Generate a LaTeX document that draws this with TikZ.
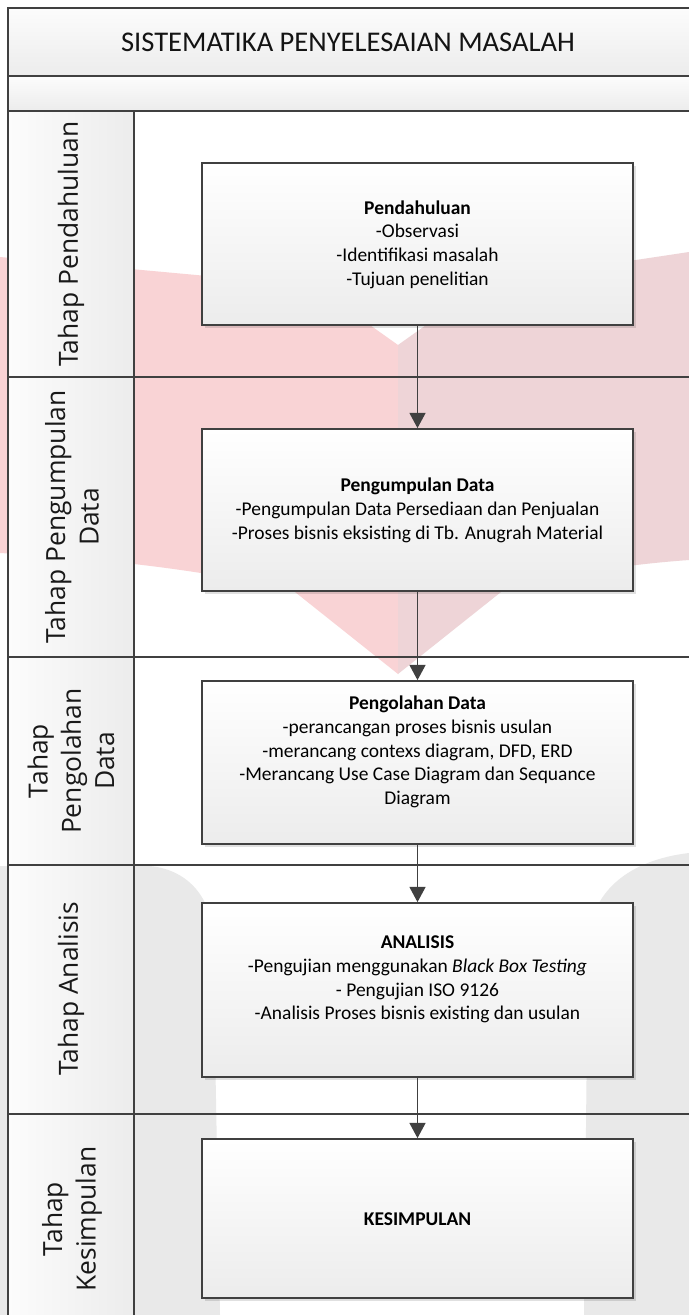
\documentclass[tikz,border=0pt]{standalone}
\usepackage{fontspec}
\setmainfont{Carlito}
\newfontfamily\lanefont{Open Sans}
\usetikzlibrary{arrows.meta,calc,shadows}
\definecolor{ln}{HTML}{404040}
\definecolor{pinkL}{HTML}{F9D3D5}
\definecolor{pinkR}{HTML}{EED4D7}
\definecolor{wgrey}{HTML}{E9E9E9}
\definecolor{hdtop}{HTML}{FCFCFC}
\definecolor{hdbot}{HTML}{ECECEC}
\definecolor{bxbot}{HTML}{ECECEC}
\tikzset{
  gridline/.style={draw=ln, line width=1.35pt},
  procbox/.style={draw=ln, line width=1.3pt, top color=white, bottom color=bxbot,
    minimum width=431*0.75pt, inner sep=0pt,
    drop shadow={fill=black, opacity=0.12, shadow xshift=2pt, shadow yshift=-2pt}},
  boxtext/.style={align=center, inner sep=0pt, font=\fontsize{14.6}{17.8}\selectfont, text=black},
  lanelabel/.style={rotate=90, align=center, inner sep=0pt, font=\lanefont\fontsize{19.8}{25}\selectfont, text=black!90},
  arr/.style={draw=ln, line width=1.35pt, -{Triangle[length=11.5pt, width=12pt]}}
}
\begin{document}
\begin{tikzpicture}[x=0.75pt, y=-0.75pt]
\useasboundingbox (0,0) rectangle (689,1315);
\begin{scope}
\clip (0,0) rectangle (689,1315);
\fill[white] (0,0) rectangle (689,1315);
% watermark (logo) shapes
\fill[pinkL] (0,257) -- (360,290) -- (360,318) -- (398,345) -- (398,674) -- (295,592)
  .. controls (230,575) and (130,560) .. (0,553) -- cycle;
\fill[pinkR] (398,345) -- (436,318) -- (436,290) -- (689,252) -- (689,560)
  .. controls (620,565) and (560,575) .. (501,592) -- (398,674) -- cycle;
\fill[wgrey] (0,866) -- (150,866) .. controls (190,870) and (212,900) .. (213,937)
  -- (220,1315) -- (0,1315) -- cycle;
\fill[wgrey] (689,853) .. controls (630,860) and (592,890) .. (588,940)
  -- (584,1315) -- (689,1315) -- cycle;
% header rows
\shade[top color=hdtop, bottom color=hdbot] (8,8) rectangle (689,76);
\shade[top color=hdtop, bottom color=hdbot] (8,76) rectangle (689,111);
% lane header column
\shade[left color=hdtop, right color=hdbot] (8,111) rectangle (134,1315);
% grid lines
\draw[gridline] (689,8) -- (8,8) -- (8,1320);
\draw[gridline] (8,76) -- (689,76);
\draw[gridline] (8,111) -- (689,111);
\draw[gridline] (134,111) -- (134,1320);
\draw[gridline] (8,377) -- (689,377);
\draw[gridline] (8,657) -- (689,657);
\draw[gridline] (8,865) -- (689,865);
\draw[gridline] (8,1114) -- (689,1114);
\end{scope}
% title
\node[font=\fontsize{21.4}{25}\selectfont, text=black!92, inner sep=0pt] (title) at (348,42) {SISTEMATIKA PENYELESAIAN MASALAH};
% lane labels
\node[lanelabel] (l1) at (71,244) {Tahap Pendahuluan};
\node[lanelabel] (l2) at (72,517) {Tahap Pengumpulan\\Data};
\node[lanelabel] (l3) at (71,761) {Tahap\\Pengolahan\\Data};
\node[lanelabel] (l4) at (71,989) {Tahap Analisis};
\node[lanelabel] (l5) at (72,1219) {Tahap\\Kesimpulan};
% boxes
\node[procbox, minimum height=162*0.75pt] (b1) at (417.5,244) {};
\node[procbox, minimum height=162*0.75pt] (b2) at (417.5,510) {};
\node[procbox, minimum height=163*0.75pt] (b3) at (417.5,762.5) {};
\node[procbox, minimum height=174*0.75pt] (b4) at (417.5,990) {};
\node[procbox, minimum height=159*0.75pt] (b5) at (417.5,1218.5) {};
% box texts
\node[boxtext] (t1) at (417.5,244.5) {\textbf{Pendahuluan}\\-Observasi\\-Identifikasi masalah\\-Tujuan penelitian};
\node[boxtext] (t2) at (417.5,510.5) {\textbf{Pengumpulan Data}\\-Pengumpulan Data Persediaan dan Penjualan\\-Proses bisnis eksisting di Tb. Anugrah Material};
\node[boxtext] (t3) at (417.5,752) {\textbf{Pengolahan Data}\\-perancangan proses bisnis usulan\\-merancang contexs diagram, DFD, ERD\\-Merancang Use Case Diagram dan Sequance\\Diagram};
\node[boxtext] (t4) at (417.5,979.5) {\textbf{ANALISIS}\\-Pengujian menggunakan \textit{Black Box Testing}\\- Pengujian ISO 9126\\-Analisis Proses bisnis existing dan usulan};
\node[boxtext] (t5) at (417.5,1219) {\textbf{KESIMPULAN}};
% arrows
\draw[arr] (b1.south) -- (b2.north);
\draw[arr] (b2.south) -- (b3.north);
\draw[arr] (b3.south) -- (b4.north);
\draw[arr] (b4.south) -- (b5.north);
\end{tikzpicture}
\end{document}
